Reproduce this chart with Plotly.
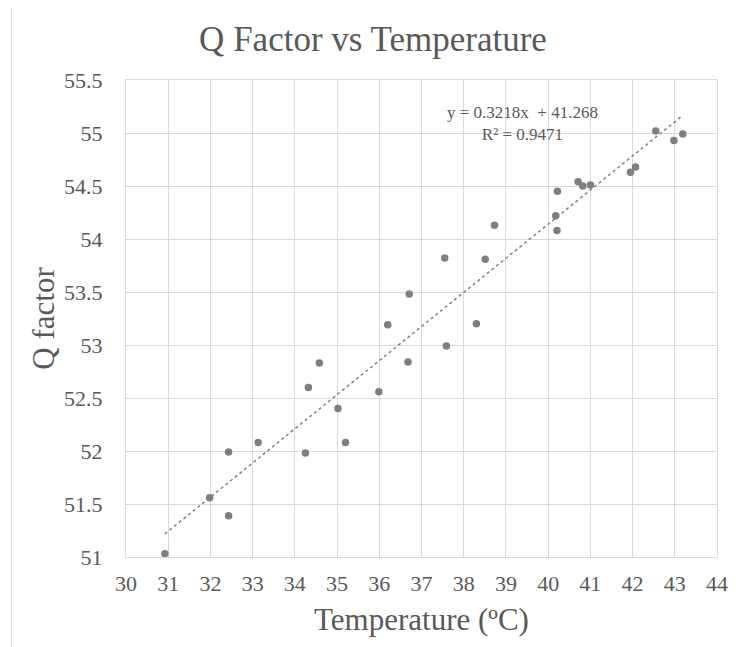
import plotly.graph_objects as go

temperature = [30.92, 31.98, 32.43, 32.43, 33.13, 34.25, 34.32, 34.58, 35.02, 35.20,
               35.99, 36.20, 36.68, 36.71, 37.55, 37.59, 38.30, 38.51, 38.73, 40.18,
               40.21, 40.22, 40.71, 40.82, 41.00, 41.95, 42.07, 42.55, 42.98, 43.19]
q_factor = [51.03, 51.56, 51.99, 51.39, 52.08, 51.98, 52.60, 52.83, 52.40, 52.08,
            52.56, 53.19, 52.84, 53.48, 53.82, 52.99, 53.20, 53.81, 54.13, 54.22,
            54.08, 54.45, 54.54, 54.50, 54.51, 54.63, 54.68, 55.02, 54.93, 54.99]
slope = 0.3218
intercept = 41.268
r_squared = 0.9471

x_ticks = list(range(30, 45))
y_ticks = [51, 51.5, 52, 52.5, 53, 53.5, 54, 54.5, 55, 55.5]
y_tick_text = ["51", "51.5", "52", "52.5", "53", "53.5", "54", "54.5", "55", "55.5"]

FONT = "Liberation Serif"
TXT = "#595959"
GRID = "#d9d9d9"

trend_x = [min(temperature), max(temperature)]
trend_y = [slope * v + intercept for v in trend_x]

fig = go.Figure()
fig.add_trace(go.Scatter(x=trend_x, y=trend_y, mode="lines",
                         line=dict(color="#808080", width=1.5, dash="dot"),
                         hoverinfo="skip", showlegend=False))
fig.add_trace(go.Scatter(x=temperature, y=q_factor, mode="markers",
                         marker=dict(color="#7f7f7f", size=7.5),
                         showlegend=False))

fig.add_annotation(x=39.4, y=55.085, xref="x", yref="y",
                   text=f"y = {slope}x  + {intercept}<br>R² = {r_squared}",
                   showarrow=False, align="center", xanchor="center", yanchor="middle",
                   font=dict(family=FONT, size=17, color=TXT))

# chart area border (left and top)
fig.add_shape(type="line", xref="paper", yref="paper", x0=-0.194, x1=1.2, y0=1.153, y1=1.153,
              line=dict(color=GRID, width=1))
fig.add_shape(type="line", xref="paper", yref="paper", x0=-0.194, x1=-0.194, y0=-0.2, y1=1.153,
              line=dict(color=GRID, width=1))

# page body has an 8px margin: size and margins compensate for it
fig.update_layout(
    width=732, height=639,
    margin=dict(l=118, r=18, t=72, b=90),
    paper_bgcolor="white", plot_bgcolor="white",
    font=dict(family=FONT, color=TXT),
    title=dict(text="Q Factor vs Temperature", x=(373 - 8) / 732, xref="container", xanchor="center",
               y=1 - 31 / 639, yanchor="middle", yref="container",
               font=dict(family=FONT, size=35, color=TXT)),
    xaxis=dict(range=[30, 44], tickvals=x_ticks, ticktext=[str(v) for v in x_ticks],
               showgrid=True, gridcolor=GRID, gridwidth=1, zeroline=False,
               showline=True, linecolor=GRID, mirror=True,
               ticks="", ticklabelstandoff=7,
               tickfont=dict(family=FONT, size=22, color=TXT),
               title=dict(text="Temperature (ºC)", standoff=12,
                          font=dict(family=FONT, size=31, color=TXT))),
    yaxis=dict(range=[51, 55.5], tickvals=y_ticks, ticktext=y_tick_text,
               showgrid=True, gridcolor=GRID, gridwidth=1, zeroline=False,
               showline=True, linecolor=GRID, mirror=True,
               ticks="", ticklabelstandoff=18,
               tickfont=dict(family=FONT, size=22, color=TXT),
               title=dict(text="Q factor", standoff=0,
                          font=dict(family=FONT, size=31, color=TXT))),
)

fig.write_html("out.html")
